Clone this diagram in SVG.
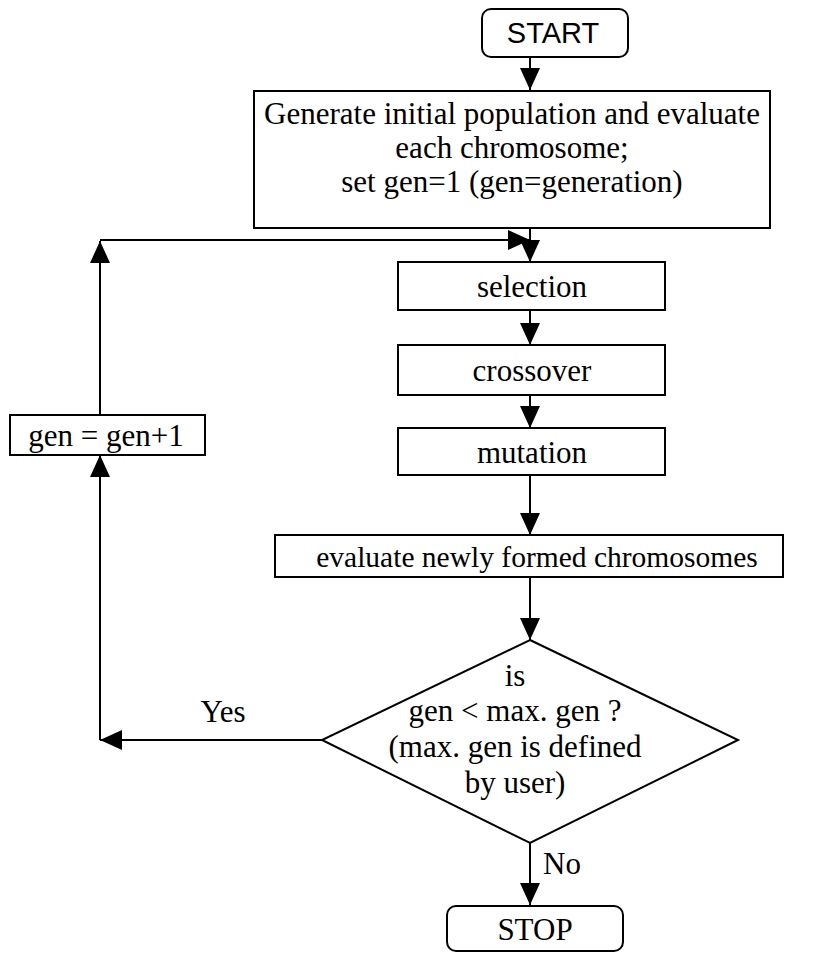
<svg xmlns="http://www.w3.org/2000/svg" width="813" height="954" viewBox="0 0 813 954">
<style>
.box{fill:#fff;stroke:#000;stroke-width:2}
.t{font-family:"Liberation Serif","Times New Roman",serif;font-size:31px;fill:#000;text-anchor:middle}
.a{font-family:"Liberation Sans",Arial,sans-serif;font-size:29px;fill:#000;text-anchor:middle}
.c{fill:none;stroke:#000;stroke-width:2}
</style>
<defs>
<marker id="ah" markerUnits="userSpaceOnUse" markerWidth="22" markerHeight="20" refX="22" refY="10" orient="auto">
<path d="M0,0 L22,10 L0,20 z" fill="#000"/>
</marker>
</defs>
<rect width="813" height="954" fill="#fff"/>
<g id="connectors">
<path class="c" d="M530,57 V90" marker-end="url(#ah)"/>
<path class="c" d="M530,228 V262" marker-end="url(#ah)"/>
<path class="c" d="M100,415 V241" marker-end="url(#ah)"/>
<path class="c" d="M100,240 H530" marker-end="url(#ah)"/>
<path class="c" d="M530,310 V345" marker-end="url(#ah)"/>
<path class="c" d="M530,395 V428" marker-end="url(#ah)"/>
<path class="c" d="M530,475 V535" marker-end="url(#ah)"/>
<path class="c" d="M530,577 V640" marker-end="url(#ah)"/>
<path class="c" d="M322,740 H100" marker-end="url(#ah)"/>
<path class="c" d="M100,740 V455" marker-end="url(#ah)"/>
<path class="c" d="M530,843 V905" marker-end="url(#ah)"/>
<text class="t" x="223" y="722">Yes</text>
<text class="t" x="543" y="874" style="text-anchor:start">No</text>
</g>
<g id="start">
<rect class="box" x="482" y="9" width="146" height="48" rx="9"/>
<text class="a" x="553" y="43">START</text>
</g>
<g id="init">
<rect class="box" x="254" y="91" width="516" height="137"/>
<text class="t" x="512" y="124">Generate initial population and evaluate</text>
<text class="t" x="512" y="158">each chromosome;</text>
<text class="t" x="512" y="192">set gen=1 (gen=generation)</text>
</g>
<g id="selection">
<rect class="box" x="398" y="262" width="267" height="48"/>
<text class="t" x="532" y="297">selection</text>
</g>
<g id="crossover">
<rect class="box" x="398" y="345" width="267" height="50"/>
<text class="t" x="532" y="381">crossover</text>
</g>
<g id="mutation">
<rect class="box" x="398" y="428" width="267" height="47"/>
<text class="t" x="532" y="463">mutation</text>
</g>
<g id="evaluate">
<rect class="box" x="275" y="535" width="508" height="42"/>
<text class="t" x="537" y="567" style="font-size:29.5px">evaluate newly formed chromosomes</text>
</g>
<g id="decision">
<polygon class="box" points="530,640 738,740 530,843 322,740"/>
<text class="t" x="515" y="686">is</text>
<text class="t" x="515" y="721">gen &lt; max. gen ?</text>
<text class="t" x="515" y="757">(max. gen is defined</text>
<text class="t" x="515" y="793">by user)</text>
</g>
<g id="increment">
<rect class="box" x="10" y="415" width="195" height="40"/>
<text class="t" x="106" y="446">gen = gen+1</text>
</g>
<g id="stop">
<rect class="box" x="447" y="906" width="176" height="45" rx="9"/>
<text class="t" x="535" y="940">STOP</text>
</g>
</svg>
